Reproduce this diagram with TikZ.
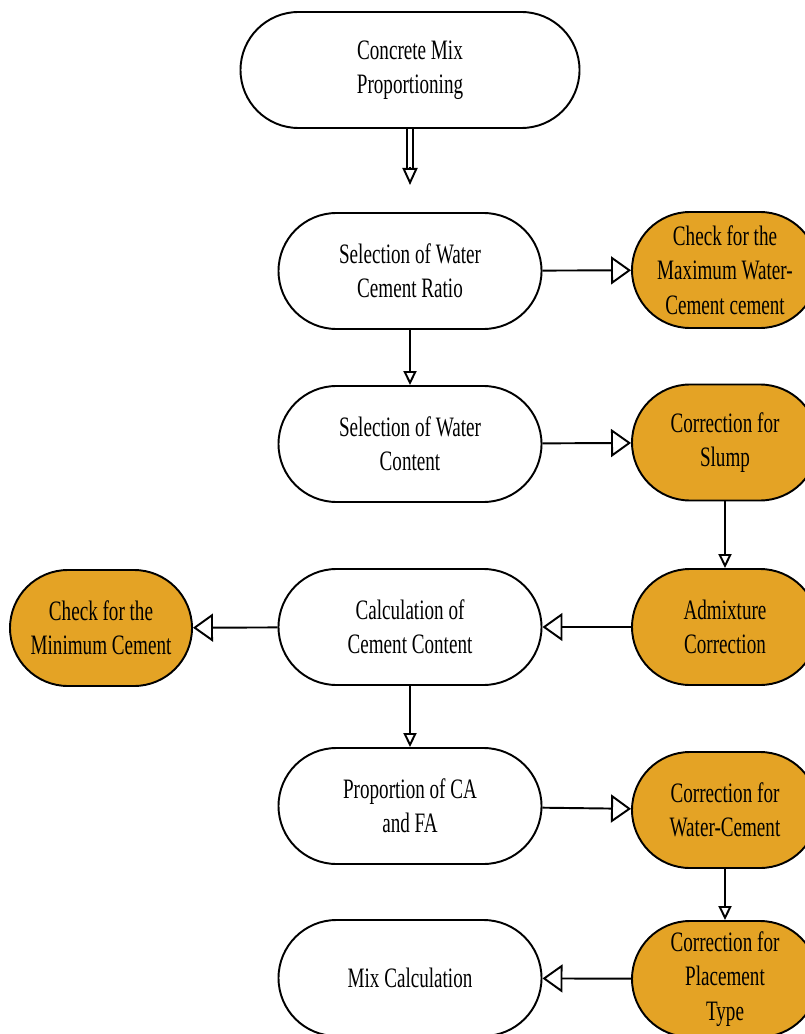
\documentclass[tikz,border=0pt]{standalone}
\usepackage{fontspec}
\setmainfont[FakeStretch=0.68]{Liberation Serif}
\definecolor{mixOrange}{RGB}{228,163,37}
\usepackage{tikz}
\usetikzlibrary{arrows.meta,positioning,calc}
\tikzset{
  stepnode/.style={draw, line width=1.1pt, rounded corners=1.16cm,
    minimum width=5.26cm, minimum height=2.32cm, align=center,
    font=\fontsize{16}{19.5}\selectfont},
  checknode/.style={stepnode, fill=mixOrange, minimum width=3.72cm},
  sidearrow/.style={line width=1.1pt, -{Triangle[open, length=0.4cm, width=0.56cm, line width=1.1pt]}},
  downarrow/.style={line width=1.1pt, -{Triangle[open, length=0.28cm, width=0.26cm, line width=1.1pt]}}
}
\begin{document}
\begin{tikzpicture}
      \useasboundingbox (0,0) rectangle (16.08,-20.68);
      % Main column
      \node[stepnode, minimum width=6.78cm] (start) at (8.20,-1.40)
        {Concrete Mix\\Proportioning};
      \coordinate (starttip) at (8.20,-3.70);
      \node[stepnode] (ratio) at (8.20,-5.42) {Selection of Water\\Cement Ratio};
      \node[stepnode] (water) at (8.20,-8.88) {Selection of Water\\Content};
      \node[stepnode] (cement) at (8.20,-12.54) {Calculation of\\Cement Content};
      \node[stepnode] (cafa) at (8.20,-16.12) {Proportion of CA\\and FA};
      \node[stepnode] (mix) at (8.20,-19.56) {Mix Calculation};
      % Checks and corrections
      \node[checknode] (maxwc) at (14.50,-5.40)
        {Check for the\\Maximum Water-\\Cement cement};
      \node[checknode] (slump) at (14.50,-8.85) {Correction for\\Slump};
      \node[checknode] (admix) at (14.50,-12.54) {Admixture\\Correction};
      \node[checknode, minimum width=3.64cm] (mincem) at (2.02,-12.56)
        {Check for the\\Minimum Cement};
      \node[checknode] (corrwc) at (14.50,-16.20) {Correction for\\Water-Cement};
      \node[checknode] (place) at (14.50,-19.58)
        {Correction for\\Placement\\Type};
      % Arrows
      \draw[double, double distance=2.6pt, line width=0.9pt, shorten >=0.34cm] (start) -- (starttip);
      \draw[line width=1.1pt, -{Triangle[open, length=0.34cm, width=0.3cm, line width=1.1pt]}]
        ($(starttip)+(0,0.36)$) -- (starttip);
      \draw[downarrow] (ratio) -- (water);
      \draw[sidearrow] (ratio) -- (maxwc);
      \draw[sidearrow] (water) -- (slump);
      \draw[downarrow] (slump) -- (admix);
      \draw[sidearrow] (admix) -- (cement);
      \draw[sidearrow] (cement) -- (mincem);
      \draw[downarrow] (cement) -- (cafa);
      \draw[sidearrow] (cafa) -- (corrwc);
      \draw[downarrow] (corrwc) -- (place);
      \draw[sidearrow] (place) -- (mix);
    \end{tikzpicture}
\end{document}
